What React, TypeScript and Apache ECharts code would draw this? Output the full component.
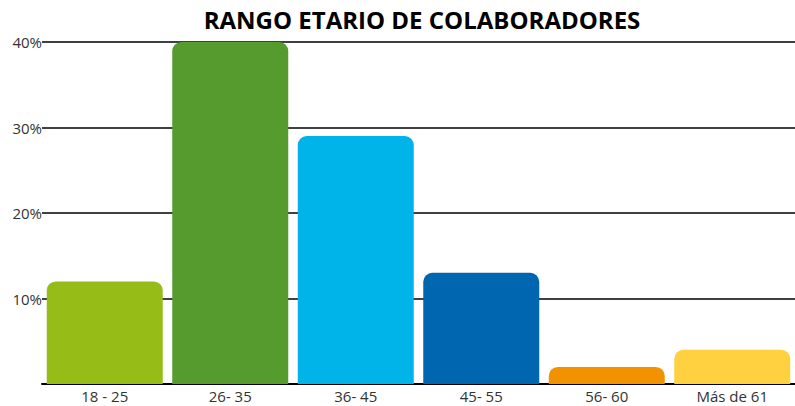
import React, { useEffect, useRef } from "react";
import * as echarts from "echarts";

const categories = ["18 - 25", "26- 35", "36- 45", "45- 55", "56- 60", "Más de 61"];
const values = [12, 40, 29, 13, 2, 4];
const colors = ["#95BC17", "#559B2E", "#00B4E9", "#0066B0", "#F39200", "#FFD03F"];
const yTicks = [0, 10, 20, 30, 40];

export default function App() {
  const ref = useRef<HTMLDivElement>(null);
  useEffect(() => {
    if (!ref.current) return;
    const chart = echarts.init(ref.current, null, { renderer: "svg" });
    chart.setOption({
      animation: false,
      title: {
        text: "RANGO ETARIO DE COLABORADORES",
        left: 417,
        textAlign: "center",
        top: 2,
        textStyle: { fontFamily: "Open Sans", fontWeight: "bold", fontSize: 24, color: "#000" },
      },
      grid: { left: 42, width: 756, top: 42, bottom: 22, containLabel: false },
      xAxis: {
        type: "category",
        data: categories,
        axisLine: { show: true, lineStyle: { color: "#000", width: 2 } },
        axisTick: { show: false },
        axisLabel: { margin: 4, fontFamily: "Open Sans", fontSize: 15, color: "#333" },
      },
      yAxis: {
        type: "value",
        min: yTicks[0],
        max: yTicks[yTicks.length - 1],
        interval: 10,
        axisLine: { show: false },
        axisTick: { show: false },
        splitLine: { show: true, lineStyle: { color: "#000", width: 1.5 } },
        axisLabel: {
          margin: 0,
          fontFamily: "Open Sans",
          fontSize: 15,
          color: "#333",
          formatter: (v: number) => (v === 0 ? "" : v + "%"),
        },
      },
      series: [
        {
          type: "bar",
          barWidth: 116,
          data: values.map((v, i) => ({ value: v, itemStyle: { color: colors[i] } })),
          itemStyle: { borderRadius: [9, 9, 0, 0] },
        },
      ],
    });
    return () => chart.dispose();
  }, []);
  return <div ref={ref} style={{ width: 795, height: 406, position: "absolute", left: 0, top: 0 }} />;
}
